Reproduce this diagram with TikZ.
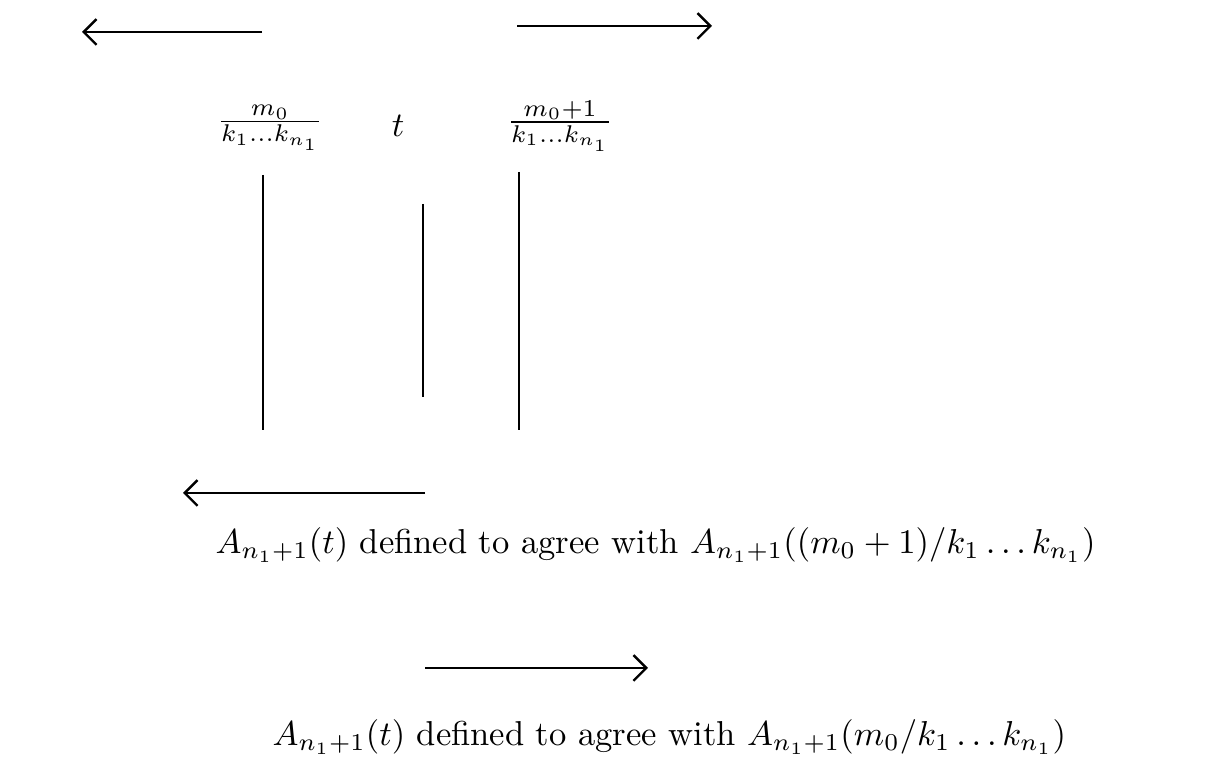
\documentclass[tikz,border=0pt]{standalone}
\usetikzlibrary{arrows.meta}
\begin{document}
\begin{tikzpicture}[x=0.35pt,y=-0.35pt,
  arr/.style={line width=0.85pt,-{Straight Barb[length=4.5pt,width=9pt,line width=0.85pt]}},
  vline/.style={line width=0.6pt},
  txt/.style={scale=1.21},
  lab/.style={txt,inner sep=0pt,anchor=west}]
\useasboundingbox (0,0) rectangle (1210,760);
% top arrows
\coordinate (tl0) at (262,32); \coordinate (tl1) at (82,32);
\draw[arr] (tl0) -- (tl1);
\coordinate (tr0) at (517,26); \coordinate (tr1) at (712,26);
\draw[arr] (tr0) -- (tr1);
% labels
\node[txt] (f1) at (270,128) {$\frac{m_0}{k_1\ldots k_{n_1}}$};
\node[txt] (t) at (398,126) {$t$};
\node[txt] (f2) at (560,126) {$\frac{m_0+1}{k_1\ldots k_{n_1}}$};
% vertical lines
\coordinate (v1a) at (263,175); \coordinate (v1b) at (263,430);
\coordinate (v2a) at (423,204); \coordinate (v2b) at (423,397);
\coordinate (v3a) at (519,172); \coordinate (v3b) at (519,430);
\draw[vline] (v1a) -- (v1b);
\draw[vline] (v2a) -- (v2b);
\draw[vline] (v3a) -- (v3b);
% middle arrow
\coordinate (m0) at (425,493); \coordinate (m1) at (183,493);
\draw[arr] (m0) -- (m1);
\node[lab] (txt1) at (215,545) {$A_{n_1+1}(t)$ defined to agree with $A_{n_1+1}((m_0+1)/k_1\ldots k_{n_1})$};
\coordinate (b0) at (425,668); \coordinate (b1) at (648,668);
\draw[arr] (b0) -- (b1);
\node[lab] (txt2) at (272,737) {$A_{n_1+1}(t)$ defined to agree with $A_{n_1+1}(m_0/k_1\ldots k_{n_1})$};
\end{tikzpicture}
\end{document}
